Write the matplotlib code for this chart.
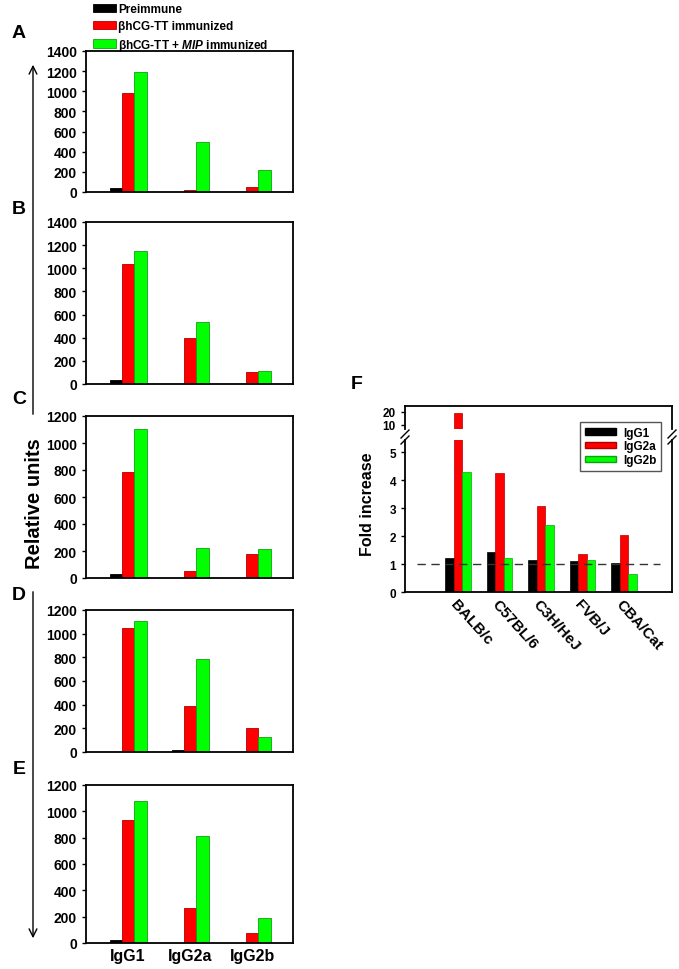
import numpy as np
import matplotlib.pyplot as plt
from matplotlib.patches import Patch, FancyArrowPatch
from matplotlib.lines import Line2D

plt.rcParams['font.family'] = ['Liberation Sans', 'DejaVu Sans']
plt.rcParams['font.weight'] = 'bold'
plt.rcParams['mathtext.fontset'] = 'custom'
plt.rcParams['mathtext.it'] = 'Liberation Sans:bold:italic'

### data
isotypes = ['IgG1', 'IgG2a', 'IgG2b']
groups = ['Preimmune', 'βhCG-TT immunized', r'βhCG-TT + $\mathit{MIP}$ immunized']
group_colors = ['#000000', '#ff0000', '#00ff00']
group_edges = ['#000000', '#b00000', '#10a010']

panel_names = ['A', 'B', 'C', 'D', 'E']
panel_ymax = [1400, 1400, 1200, 1200, 1200]
# rows: preimmune, betahCG-TT, betahCG-TT + MIP ; columns: IgG1, IgG2a, IgG2b
vals_A = [[40, 0, 0], [985, 23, 49], [1190, 494, 217]]
vals_B = [[34, 0, 0], [1040, 397, 100], [1150, 532, 114]]
vals_C = [[33, 0, 0], [785, 50, 175], [1105, 225, 218]]
vals_D = [[0, 14, 0], [1052, 391, 199], [1105, 790, 130]]
vals_E = [[20, 0, 0], [935, 263, 77], [1080, 815, 188]]
panel_vals = [vals_A, vals_B, vals_C, vals_D, vals_E]

strains = ['BALB/c', 'C57BL/6', 'C3H/HeJ', 'FVB/J', 'CBA/Cat']
fold_igg1 = [1.2, 1.42, 1.14, 1.1, 1.05]
fold_igg2a = [19.5, 4.24, 3.08, 1.36, 2.02]
fold_igg2b = [4.28, 1.22, 2.39, 1.14, 0.64]

### layout helpers (pixel boxes)
W, H = 679, 970
fig = plt.figure(figsize=(W / 100, H / 100), dpi=100)

def box(l, t, r, b):
    return [l / W, 1 - b / H, (r - l) / W, (b - t) / H]

def fx(x):
    return x / W

def fy(y):
    return 1 - y / H

# panels A-E
tops = [52, 223, 417, 611, 786]
bots = [193, 385, 579, 753, 944]
letter_y = [33, 210, 400, 595, 770]
bw = 0.2
x = np.arange(len(isotypes))

for i in range(5):
    ax = fig.add_axes(box(86, tops[i], 293, bots[i]))
    vals = panel_vals[i]
    for g in range(3):
        ax.bar(x + (g - 1) * bw, vals[g], bw, color=group_colors[g],
               edgecolor=group_edges[g], linewidth=0.6)
    ax.set_xlim(-0.68, 2.66)
    ax.set_ylim(0, panel_ymax[i])
    ax.set_yticks(np.arange(0, panel_ymax[i] + 1, 200))
    ax.tick_params(axis='y', labelsize=10, length=3, width=1)
    ax.tick_params(axis='x', length=0)
    if i == 4:
        ax.set_xticks(x)
        ax.set_xticklabels(isotypes, fontsize=11.5, fontweight='bold')
    else:
        ax.set_xticks([])
    for s in ax.spines.values():
        s.set_linewidth(1.3)
    for lab in ax.get_yticklabels():
        lab.set_fontweight('bold')
    fig.text(fx(19), fy(letter_y[i]), panel_names[i], fontsize=14,
             fontweight='bold', ha='center', va='center')

# top legend
handles = [Patch(facecolor=group_colors[g], edgecolor=group_edges[g], linewidth=0.6)
           for g in range(3)]
fig.legend(handles, groups, loc='upper left', bbox_to_anchor=(fx(86), fy(-3)),
           frameon=False, handlelength=1.9, handleheight=0.7,
           handletextpad=0.2, labelspacing=0.4, borderpad=0.1,
           prop={'weight': 'bold', 'size': 8.5})

# vertical arrows and "Relative units"
fig.add_artist(FancyArrowPatch((fx(33), fy(418)), (fx(33), fy(63)),
                               transform=fig.transFigure, arrowstyle='->',
                               mutation_scale=14, lw=1, color='black'))
fig.add_artist(FancyArrowPatch((fx(33), fy(590)), (fx(33), fy(942)),
                               transform=fig.transFigure, arrowstyle='->',
                               mutation_scale=14, lw=1, color='black'))
fig.text(fx(34), fy(504), 'Relative units', rotation=90, fontsize=14.5,
         fontweight='bold', ha='center', va='center')

### panel F (broken y axis)
xs = np.arange(len(strains))
fw = 0.205
ax_up = fig.add_axes(box(405, 407, 672, 430))
ax_lo = fig.add_axes(box(405, 441, 672, 593))
for ax in (ax_up, ax_lo):
    ax.bar(xs - fw, fold_igg1, fw, color='black', edgecolor='black', linewidth=0.5)
    ax.bar(xs, fold_igg2a, fw, color='#ff0000', edgecolor='#b00000', linewidth=0.5)
    ax.bar(xs + fw, fold_igg2b, fw, color='#00ff00', edgecolor='#10a010', linewidth=0.5)
    ax.set_xlim(-1.28, 5.16)
    ax.tick_params(axis='x', length=0)
    ax.tick_params(axis='y', labelsize=8.5, length=3, width=1)
    for s in ax.spines.values():
        s.set_linewidth(1.3)
ax_up.set_ylim(6.9, 24.6)
ax_up.set_yticks([10, 20])
ax_up.set_xticks([])
ax_up.spines['bottom'].set_visible(False)
ax_lo.set_ylim(0, 5.43)
ax_lo.set_yticks([0, 1, 2, 3, 4, 5])
ax_lo.spines['top'].set_visible(False)
ax_lo.set_xticks(xs)
ax_lo.set_xticklabels(strains, rotation=-48, ha='left', va='top',
                      rotation_mode='anchor', fontsize=11, fontweight='bold')
ax_lo.plot([-1.0, 4.87], [1, 1], color='#333333', lw=1, dashes=(6, 4))
for ax in (ax_up, ax_lo):
    for lab in ax.get_yticklabels():
        lab.set_fontweight('bold')

# break marks
for xb in (405, 672):
    fig.add_artist(Line2D([fx(xb - 4), fx(xb + 4)], [fy(439), fy(431)],
                          color='black', lw=1, transform=fig.transFigure))
    fig.add_artist(Line2D([fx(xb - 4), fx(xb + 4)], [fy(445), fy(437)],
                          color='black', lw=1, transform=fig.transFigure))

leg_handles = [Patch(facecolor='black', edgecolor='black'),
               Patch(facecolor='#ff0000', edgecolor='#b00000'),
               Patch(facecolor='#00ff00', edgecolor='#10a010')]
ax_lo.legend(leg_handles, ['IgG1', 'IgG2a', 'IgG2b'], loc='upper right',
             bbox_to_anchor=(fx(667), fy(417)), bbox_transform=fig.transFigure,
             fancybox=False, edgecolor='#555555', framealpha=1,
             handlelength=2.6, handleheight=0.45, handletextpad=0.6,
             labelspacing=0.15, borderpad=0.4, prop={'weight': 'bold', 'size': 8.5})

fig.text(fx(368), fy(504), 'Fold increase', rotation=90, fontsize=11.5,
         fontweight='bold', ha='center', va='center')
fig.text(fx(357), fy(385), 'F', fontsize=14, fontweight='bold', ha='center', va='center')

fig.savefig('out.png', dpi=100)
